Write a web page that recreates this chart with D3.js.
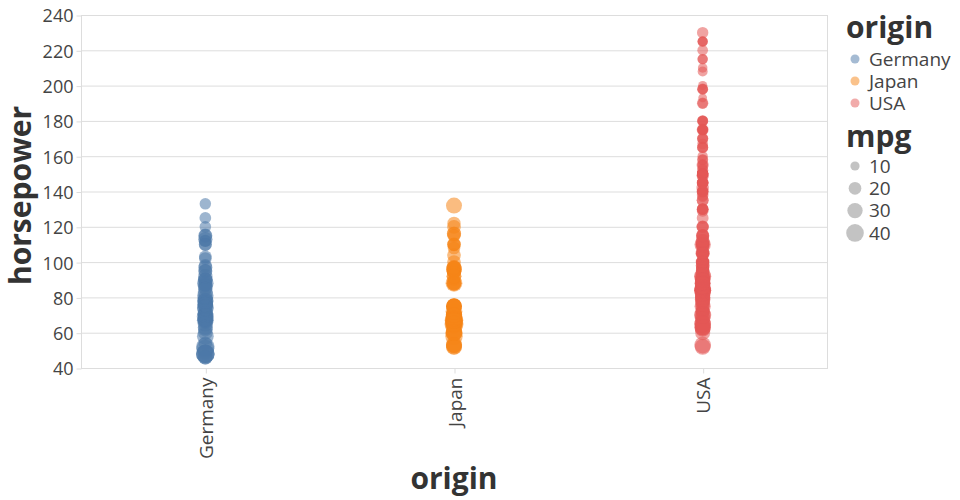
<!DOCTYPE html>
<html>
<head>
<meta charset="utf-8">
<script src="https://cdn.jsdelivr.net/npm/d3@7"></script>
<style>
  html, body { margin: 0; padding: 0; background: #fff; }
  svg { display: block; font-family: "Open Sans", sans-serif; }
</style>
</head>
<body>
<svg id="chart" width="960" height="500"></svg>
<script>
// ---- data ----
const categories = ["Germany", "Japan", "USA"];
const colorRange = ["#4c78a8", "#f58518", "#e45756"];
const yTicks = [40, 60, 80, 100, 120, 140, 160, 180, 200, 220, 240];
const mpgLegendValues = [10, 20, 30, 40];

const germanyHP = [46,87,90,95,113,90,70,76,60,54,112,76,87,69,112,90,49,83,67,78,69,70,95,88,98,115,86,58,78,71,120,102,48,103,125,115,133,71,110,78,77,71,48,67,67,74,88,74,81,80,76,51,52,69,48,78,75,67,46,63,65,62,92,85,110,68,76,97];
const germanyMPG = [26,25,24,25,26,28,30,30,27,23,18,22,21,26,19,26,29,29,26,24,27,29,23,23,22,25,28,36,29,19,16.5,20,43.1,20.3,17,21.6,16.2,31.5,21.5,31.9,25.4,27.2,43.4,36.4,30,33,35,36,34.5,28.1,30.7,40.9,44,37.3,44.3,34.3,26,31,26,29,30,27,26,24,20,30,29,25];

const japanHP = [95,88,95,65,69,95,97,88,92,97,88,90,94,65,52,67,67,75,61,52,53,110,120,116,96,132,95,110,100,116,122,65,67,65,60,58,60,67,65,75,75,70,68,68,88,72,70,67,67,67,96,65,75,70,68,68,95,97,75,65,104,110,108,115,60,70,70,75,90,94,53,53,60,68,75,97,88,92,67];
const japanMPG = [24,27,25,31,35,24,19,27,28,23,20,18,22,31,31,26,31,31,32,33,33,21.5,24.2,25.4,32,32.7,21.1,23.7,23.9,25.4,22,46.6,44.6,37.2,38.1,39.1,35.1,33.8,40.8,31.3,32.2,34,37,31,36,36,34,38,32,38,32,32.8,26,33.5,31.5,29.5,27.5,27.2,27.5,32.8,23.9,21.5,20,22,31.5,32,29,28,18,22,33,29,33,31,30,24,28,27,36];

const usaHP = [150,180,170,175,150,153,150,208,155,160,190,150,130,140,150,150,158,215,225,175,105,100,100,88,100,165,90,86,90,70,80,90,100,105,100,100,72,85,107,145,230,150,180,175,140,150,130,150,110,105,140,150,150,180,145,137,150,198,150,158,150,215,225,175,150,198,155,167,140,175,150,225,110,95,100,110,72,95,86,97,80,95,85,90,88,92,72,72,84,80,67,63,75,62,83,78,97,110,85,108,75,110,145,130,150,150,140,100,88,96,95,110,140,90,115,84,120,152,100,105,81,90,52,60,70,53,100,78,110,125,145,135,150,180,170,190,149,149,145,98,115,105,142,110,100,75,68,145,98,92,100,85,155,120,110,85,105,120,85,130,129,138,135,145,175,140,90,110,85,100,115,80,78,110,115,105,88,65,105,90,105,90,88,90,110,84,84,63,84,92,110,84,64,63,65,65,84,86,85,92,112,84,84,80,90,82,88,84,92,63,84,88,85,86,82,84,79,88,70,85,76,112,85,90,86,88,220,210,200,193,198,165,165,170];
const usaMPG = [14,12,13,13,14,13,14,12,13,13,13,15,16,14,13,14,15,13,12,13,18,16,18,18,19,15,21,22,20,26,21,19,15,15,16,17,26,24,18,16,16,13,14,14,14,15,15,14,17,16,15,13,16,13,14,14,14,13,14,13,12,13,12,13,14,13,14,14,13,14,15,13,18,22,21,19,23,23,23,20,24,19,23,20,21,24,25,21,24,26,25,25,25,29,25,28,21,20,20,20,19.5,17,13,16,16,14,14,20,28,22,23,18,16,19,19,24.5,17,15.5,17.5,20.5,29,24.5,32,29,33,36,24.5,28,19,17.5,15.5,17.5,16,15.5,15.5,16,17,18.5,18,23,19,20.2,19.2,20.6,17.5,33.5,30,16,24,25.5,20.2,19.4,18.6,18.1,20.5,20.2,19.2,19.2,24,17.6,16.9,16.9,17.5,15.5,17.7,18.2,21.5,19.8,22.3,20.2,20.6,30,21.1,23.2,22.4,23.6,27.4,30.9,19.1,26.8,25.1,28.4,27.2,29.8,26.6,32.1,37.7,34.1,27,34.2,34.5,31,29.9,30,34.4,36.1,26.4,23,26.6,24,24,25,27,29,28,27,34,31,38,34,36,30,36,27,32,36,31,27,38,28,26,22,20.6,25.4,28,25,14,11,10,9,15,15,14,15];

// ---- build rows ----
const rows = [];
[[germanyHP, germanyMPG, "Germany"], [japanHP, japanMPG, "Japan"], [usaHP, usaMPG, "USA"]]
  .forEach(([hp, mpg, origin]) => {
    hp.forEach((h, i) => rows.push({ origin, horsepower: h, mpg: mpg[i] }));
  });

// ---- layout ----
const svg = d3.select("#chart");
const plotLeft = 81, plotRight = 827, plotTop = 15, plotBottom = 368;

const x = d3.scalePoint().domain(categories).range([plotLeft, plotRight]).padding(0.5);
const y = d3.scaleLinear().domain([40, 240]).range([plotBottom, plotTop]);
const color = d3.scaleOrdinal().domain(categories).range(colorRange);
const size = d3.scaleLinear().domain([0, 46.6]).range([9, 361]);
const radius = v => Math.sqrt(size(v)) / 2;

const gridColor = "#ddd";
const labelColor = "#444";
const titleColor = "#333";

// grid
svg.append("g")
  .selectAll("line")
  .data(yTicks)
  .join("line")
  .attr("x1", plotLeft).attr("x2", plotRight)
  .attr("y1", d => y(d) + 0.5).attr("y2", d => y(d) + 0.5)
  .attr("stroke", gridColor).attr("stroke-width", 1);

// frame
svg.append("rect")
  .attr("x", plotLeft + 0.5).attr("y", plotTop + 0.5)
  .attr("width", plotRight - plotLeft).attr("height", plotBottom - plotTop)
  .attr("fill", "none").attr("stroke", gridColor);

// y axis
const yAxis = svg.append("g")
  .attr("transform", `translate(${plotLeft + 0.5},0.5)`)
  .call(d3.axisLeft(y).tickValues(yTicks).tickSize(5).tickPadding(3));
yAxis.select(".domain").remove();
yAxis.selectAll(".tick line").attr("stroke", gridColor);
yAxis.selectAll(".tick text")
  .attr("fill", labelColor).style("font-size", "18px")
  .style("font-family", "'Open Sans', sans-serif")
  .attr("dy", "0.36em");

// x axis
const xAxis = svg.append("g")
  .attr("transform", `translate(0.5,${plotBottom + 0.5})`)
  .call(d3.axisBottom(x).tickSize(5).tickPadding(4));
xAxis.select(".domain").remove();
xAxis.selectAll(".tick line").attr("stroke", gridColor);
xAxis.selectAll(".tick text")
  .attr("fill", labelColor).style("font-size", "19px")
  .style("font-family", "'Open Sans', sans-serif")
  .attr("transform", "rotate(-90)")
  .attr("text-anchor", "end")
  .attr("x", -9).attr("y", 0).attr("dy", "0.35em");

// axis titles
svg.append("text")
  .attr("x", (plotLeft + plotRight) / 2).attr("y", 489)
  .attr("text-anchor", "middle")
  .attr("fill", titleColor)
  .style("font-size", "30px").style("font-weight", "bold")
  .text("origin");

svg.append("text")
  .attr("transform", `translate(31,${(plotTop + plotBottom) / 2 + 4}) rotate(-90)`)
  .attr("text-anchor", "middle")
  .attr("fill", titleColor)
  .style("font-size", "30px").style("font-weight", "bold")
  .text("horsepower");

// points
svg.append("g")
  .selectAll("circle")
  .data(rows)
  .join("circle")
  .attr("cx", d => x(d.origin))
  .attr("cy", d => y(d.horsepower))
  .attr("r", d => radius(d.mpg))
  .attr("fill", d => color(d.origin))
  .attr("opacity", 0.55);

// legend: origin
const lg = svg.append("g");
lg.append("text")
  .attr("x", 846).attr("y", 38)
  .attr("fill", titleColor)
  .style("font-size", "30px").style("font-weight", "bold")
  .text("origin");
const lo = lg.selectAll("g.o")
  .data(categories)
  .join("g")
  .attr("transform", (d, i) => `translate(855,${59 + i * 22})`);
lo.append("circle").attr("r", 4.5).attr("fill", d => color(d)).attr("opacity", 0.5);
lo.append("text")
  .attr("x", 14).attr("dy", "0.35em")
  .attr("fill", labelColor).style("font-size", "19px")
  .text(d => d);

// legend: mpg
lg.append("text")
  .attr("x", 846).attr("y", 147)
  .attr("fill", titleColor)
  .style("font-size", "30px").style("font-weight", "bold")
  .text("mpg");
const lm = lg.selectAll("g.m")
  .data(mpgLegendValues)
  .join("g")
  .attr("transform", (d, i) => `translate(855,${166 + i * 22.3})`);
lm.append("circle").attr("r", d => radius(d)).attr("fill", "#888").attr("opacity", 0.5);
lm.append("text")
  .attr("x", 14).attr("dy", "0.35em")
  .attr("fill", labelColor).style("font-size", "19px")
  .text(d => d);
</script>
</body>
</html>
